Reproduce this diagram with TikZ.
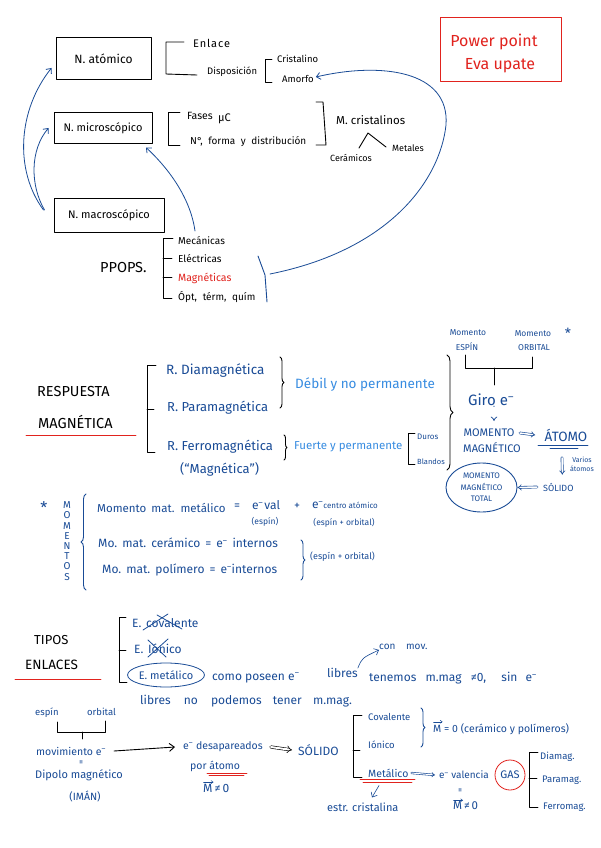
\documentclass[tikz,border=0pt]{standalone}
\usepackage{fontspec}
\setmainfont{Fira Sans}
\usetikzlibrary{arrows.meta,shapes.geometric,decorations.pathreplacing}
\definecolor{ink}{RGB}{25,75,150}
\definecolor{lblue}{RGB}{55,140,225}
\definecolor{redink}{RGB}{225,35,30}
\newcommand{\eneg}{e\textsuperscript{--}}
\newcommand{\ls}[2]{{\addfontfeature{LetterSpace=#1}#2}}
\newcommand{\gp}[1][5pt]{\hspace{#1}}
\begin{document}
\begin{tikzpicture}[x=1pt,y=-1pt, line cap=round, line join=round,
  fs/.style={font=\fontsize{#1}{#1}\selectfont},
  tw/.style={anchor=west, inner sep=0pt},
  bl/.style={text=ink},
  lb/.style={text=lblue},
  rd/.style={text=redink},
  lbox/.style={draw, line width=1pt, inner sep=0pt},
  brk/.style={line width=0.9pt},
  bbrk/.style={line width=0.9pt, ink},
  arr/.style={ink, line width=0.8pt, -{Straight Barb[length=4pt,width=7pt]}},
  vecar/.style={ink, line width=0.5pt, -{Straight Barb[length=2pt,width=3pt]}},
  dbl/.style={ink, double, double distance=1.5pt, line width=0.6pt, -{Implies}},
  brc/.style={decorate, decoration={brace, amplitude=#1}, line width=0.9pt},
]
\useasboundingbox (0,0) rectangle (600,848);
\fill[white] (0,0) rectangle (600,848);

% ---------- top: levels ----------
\node[lbox, minimum width=95pt, minimum height=42pt, fs=12] (atom) at (103.5,59) {N. atómico};
\node[lbox, minimum width=98pt, minimum height=30pt, fs=11] (micro) at (103,128) {N. microscópico};
\node[lbox, minimum width=110pt, minimum height=34pt, fs=11] (macro) at (109,215) {N. macroscópico};

\draw[brk] (184,42) -- (166,42) -- (166,74) -- (197,75);
\node[tw, fs=11] (enlace) at (193,43) {\ls{8}{Enlace}};
\node[tw, fs=9.5] (dispo) at (207,72) {Disposición};
\draw[brk] (272,59) -- (265,59) -- (265,82) -- (272,82);
\node[tw, fs=9.5] (crist) at (277,59) {Cristalino};
\node[tw, fs=9.5] (amorfo) at (282,79) {Amorfo};

\draw[brk] (180,112) -- (168,112) -- (168,145) -- (180,145);
\node[tw, fs=10.5] (fases) at (187,116) {Fases};
\node[tw, fs=11] (muc) at (218,119) {μC};
\node[tw, fs=10] (nforma) at (190,142) {N°,\gp[3pt] forma\gp[3pt] y\gp[3pt] distribución};
\draw[brk] (316,102) -- (323,102) -- (326,145) -- (316,145);
\node[tw, fs=11.5] (mcrist) at (336,120) {M. cristalinos};
\draw[brk] (359,148) -- (368,133) -- (386,147);
\node[tw, fs=9] (ceram) at (330,158) {Cerámicos};
\node[tw, fs=9] (metal) at (392,148) {Metales};

\node[draw=redink, line width=0.9pt, minimum width=121pt, minimum height=64pt] (pp) at (500.5,49) {};
\node[rd, fs=16] (pp1) at (494,42) {Power point};
\node[rd, fs=16] (pp2) at (500,66) {Eva upate};

\node[tw, fs=14.5] (ppops) at (100,268) {PPOPS.};
\draw[brk] (173,238) -- (163,238) -- (163,298) -- (172,298);
\draw[brk] (163,258) -- (172,258);
\draw[brk] (163,277) -- (172,277);
\node[tw, fs=10] (mec) at (178,241) {Mecánicas};
\node[tw, fs=10] (elec) at (178,259) {Eléctricas};
\node[tw, fs=10.5, rd] (magn) at (178,278) {Magnéticas};
\node[tw, fs=10] (opt) at (178,297) {Ópt,\gp[3pt] térm,\gp[3pt] quím};
\draw[bbrk] (258,256) -- (265,275) -- (267,302);
\coordinate (bk) at (270,274);

\draw[arr] ([shift={(-10,-5)}]macro.west) .. controls (14,170) and (18,110) .. ([shift={(-4,9)}]atom.west);
\draw[arr] ([shift={(-9,-5)}]macro.west) .. controls (30,185) and (30,150) .. ([shift={(-5,0)}]micro.west);
\draw[arr] ([shift={(17,-10)}]mec.west) .. controls (190,195) and (165,165) .. ([shift={(43,4)}]micro.south);
\draw[arr] (bk) .. controls (390,250) and (440,180) .. (446,125) .. controls (450,70) and (380,62) .. ([shift={(2,-2)}]amorfo.east);

% ---------- respuesta magnetica ----------
\node[tw, fs=14.5] (resp) at (37,392) {RESPUESTA};
\node[tw, fs=14.5] (magt) at (38,422) {MAGNÉTICA};
\draw[redink, line width=0.9pt] (26,435) -- (136,435);
\draw[brk] (156,365) -- (147,365) -- (147,452) -- (155,452);
\draw[brk] (147,409) -- (154,409);
\node[tw, bl, fs=13.5] (rdia) at (166,371) {R. Diamagnética};
\node[tw, bl, fs=13] (rpara) at (167,408) {R. Paramagnética};
\node[tw, bl, fs=13] (rferro) at (167,447) {R. Ferromagnética};
\node[tw, bl, fs=13] (rmag) at (180,469) {(“Magnética”)};
\draw[brc=4pt] (280,357) -- (280,408);
\node[tw, lb, fs=13.5] (debil) at (295,385) {Débil y no permanente};
\draw[brc=3pt] (284,435) -- (284,460);
\node[tw, lb, fs=11.5] (fuerte) at (294,447) {Fuerte y permanente};
\draw[brk] (415,433) -- (408,433) -- (408,464) -- (415,464);
\node[tw, bl, fs=8] (duros) at (417,437) {Duros};
\node[tw, bl, fs=7.5] (blandos) at (417,462) {Blandos};
\draw[brc=6pt] (447,355) -- (447,470);

\node[bl, fs=8.5] (mom1) at (468,333) {Momento};
\node[bl, fs=8.5] (esp) at (467,347) {ESPÍN};
\node[bl, fs=8.5] (mom2) at (533,334) {Momento};
\node[bl, fs=8.5] (orb) at (534,348) {ORBITAL};
\node[bl, fs=14] (star1) at (568,333) {*};
\node[bl, fs=15] (giro) at (491,400) {Giro \eneg};
\draw[brk] (465,355) -- (465,368) -- (532,368) -- (532,357);
\draw[brk] (494,368) -- (494,385);
\node[bl, fs=11] (momento) at (489,433) {MOMENTO};
\node[bl, fs=11] (magnetico) at (492,448) {MAGNÉTICO};
\draw[dbl, line width=0.7pt] ([shift={(3,7)}]giro.center) -- ([shift={(5,-12)}]momento.center);
\node[bl, fs=13.5] (atomo) at (566,435) {ÁTOMO};
\draw[dbl] ([xshift=2pt]momento.east) -- ([xshift=-6pt]atomo.west);
\draw[bbrk] (538,445) -- (588,445);
\draw[ink, line width=0.6pt] (550,448) -- (578,448);
\node[bl, align=center, font=\fontsize{7}{9}\selectfont] (varios) at (582,464) {Varios\\átomos};
\node[tw, bl, fs=9] (solido1) at (543,487) {SÓLIDO};
\draw[dbl] ([shift={(-4,13)}]atomo.south) -- ([shift={(4,-8)}]solido1.north);
\node[draw=ink, line width=0.9pt, ellipse, inner sep=0pt, minimum width=71pt, minimum height=49pt, bl, align=center, font=\fontsize{8}{11.5}\selectfont] (mmt) at (481.5,487.5) {MOMENTO\\MAGNÉTICO\\TOTAL};
\draw[dbl] ([xshift=-6pt]solido1.west) -- (mmt.east);

% ---------- momentos ----------
\node[bl, fs=16] (star2) at (44,508) {*};
\node[bl, align=center, font=\fontsize{10}{10.2}\selectfont] (momentos) at (67,541) {M\\O\\M\\E\\N\\T\\O\\S};
\draw[brc=5pt, ink] (86,590) -- (86,494);
\node[tw, bl, fs=11.5] (mmm) at (97,508) {Momento\gp[2pt] mat.\gp[2pt] metálico};
\node[bl, fs=12] (eq1) at (237,507) {=};
\node[tw, bl, fs=12] (eval) at (252,505) {\eneg\gp[1pt]val};
\node[bl, fs=12] (plus) at (297,506) {+};
\node[tw, bl, fs=12] (ecen) at (312,505) {\eneg{\fontsize{8}{8}\selectfont centro atómico}};
\node[bl, fs=8.5] (esp1) at (265,522) {(espín)};
\node[bl, fs=8.5] (esp2) at (344,523) {(espín + orbital)};
\node[tw, bl, fs=12] (mcer) at (98,543) {Mo.\gp mat.\gp cerámico\gp =\gp \eneg\gp internos};
\node[tw, bl, fs=12] (mpol) at (102,570) {Mo.\gp mat.\gp polímero\gp =\gp \eneg internos};
\draw[brc=4pt, ink] (301,540) -- (301,580);
\node[tw, bl, fs=9] (esp3) at (310,557) {(espín + orbital)};

% ---------- tipos enlaces ----------
\node[tw, fs=13] (tipos) at (34,640) {TIPOS};
\node[tw, fs=13.5] (enlaces) at (25,665) {ENLACES};
\draw[redink, line width=0.9pt] (15,679) -- (101,679);
\draw[brk] (126,617) -- (119,617) -- (119,682) -- (127,682);
\draw[brk] (119,650) -- (126,650);
\node[tw, bl, fs=12] (ecov) at (132,623) {E.};
\node[tw, bl, fs=12] (cov) at (146,623) {covalente};
\draw[ink, line width=0.8pt] ([shift={(-3,7)}]cov.west) -- ([shift={(22,-9)}]cov.west);
\draw[ink, line width=0.8pt] ([shift={(11,-8)}]cov.west) -- ([shift={(36,6)}]cov.west);
\node[tw, bl, fs=12] (eion) at (134,649) {E.};
\node[tw, bl, fs=12] (ion) at (148,649) {Iónico};
\draw[ink, line width=0.8pt] ([shift={(0,-9)}]ion.west) -- ([shift={(18,8)}]ion.west);
\draw[ink, line width=0.8pt] ([shift={(0,8)}]ion.west) -- ([shift={(20,-10)}]ion.west);
\node[draw=ink, line width=0.8pt, ellipse, inner sep=0pt, minimum width=76pt, minimum height=24pt, bl, fs=11] (emet) at (166,675) {E. metálico};
\node[tw, bl, fs=12] (como) at (212,678) {como poseen \eneg};
\node[tw, bl, fs=12] (libres) at (327,673) {libres};
\node[tw, bl, fs=10] (conmov) at (379,647) {con\gp[8pt] mov.};
\draw[arr, line width=0.6pt] (libres.north east) .. controls (362,658) .. (conmov.south west);
\node[tw, bl, fs=12] (tenemos) at (369,678) {tenemos\gp[6pt] m.mag\gp[6pt] ≠0,\gp[12pt] sin\gp[5pt] \eneg};
\node[tw, bl, fs=12] (libres2) at (140,701) {libres\gp[10pt] no\gp[10pt] podemos\gp[8pt] tener\gp[8pt] m.mag.};

% ---------- bottom ----------
\node[tw, bl, fs=9.5] (espin) at (35,713) {espín};
\node[tw, bl, fs=9.5] (orbital) at (87,712) {orbital};
\draw[brk] (57,722) -- (57,732) -- (105,732) -- (105,721);
\draw[brk] (82,732) -- (82,739);
\node[tw, bl, fs=10.5] (movim) at (36,751) {movimiento \eneg};
\node[bl, fs=9, rotate=90] (eqv) at (82,762) {=};
\node[tw, bl, fs=11] (dipolo) at (35,775) {Dipolo magnético};
\node[bl, fs=10.5] (iman) at (85,796) {(IMÁN)};
\node[tw, bl, fs=10.5] (desap) at (183,747) {\eneg\ desapareados};
\draw[line width=0.9pt, -{Straight Barb[length=5pt,width=8pt]}] ([xshift=8pt]movim.east) -- ([xshift=-8pt]desap.west);
\node[tw, bl, fs=10.5] (por) at (190,766) {por átomo};
\draw[redink, line width=0.6pt] (207,773) -- (247,773);
\draw[redink, line width=0.6pt] (209,775.5) -- (244,775.5);
\node[tw, bl, fs=12] (mne0) at (203,788) {M\,≠\,0};
\draw[vecar] ([shift={(0.5,-1.5)}]mne0.north west) -- ++(10,0);
\node[tw, bl, fs=12] (solido2) at (298,750) {SÓLIDO};
\draw[line width=0.6pt, double, double distance=2pt, -{Implies}] ([xshift=8pt]desap.east) -- ([xshift=-6pt]solido2.west);
\draw[brk] (362,715) -- (353,715) -- (353,777) -- (362,777);
\draw[brk] (353,750) -- (360,750);
\node[tw, bl, fs=9.5] (covl) at (368,717) {Covalente};
\node[tw, bl, fs=9.5] (ionc) at (368,745) {Iónico};
\node[tw, bl, fs=10.5] (metc) at (368,773) {Metálico};
\draw[redink, line width=0.6pt] (360,779) -- (415,779);
\draw[redink, line width=0.6pt] (363,782) -- (412,782);
\draw[brc=4pt, ink] (421,708) -- (421,747);
\node[tw, bl, fs=10.5] (m0) at (433,729) {M = 0 (cerámico y polímeros)};
\draw[vecar] ([shift={(0.5,-1.5)}]m0.north west) -- ++(9,0);
\node[tw, bl, fs=10] (evalc) at (439,775) {\eneg\ valencia};
\draw[dbl, double distance=1pt] ([xshift=3pt]metc.east) -- ([xshift=-4pt]evalc.west);
\node[draw=redink, circle, line width=0.8pt, minimum size=30pt, inner sep=0pt, bl, fs=11] (gas) at (510,775) {GAS};
\node[bl, fs=9, rotate=90] (eqv2) at (461,790) {=};
\node[tw, bl, fs=11.5] (mne02) at (453,806) {M\,≠\,0};
\draw[vecar] ([shift={(0.5,-1.5)}]mne02.north west) -- ++(9.5,0);
\node[tw, bl, fs=11] (estr) at (327,807) {estr. cristalina};
\draw[arr, line width=0.6pt] ([shift={(11,8)}]metc.south west) -- ([shift={(45,-5)}]estr.north west);
\draw[brk] (538,752) -- (529,752) -- (529,807) -- (538,807);
\draw[brk] (529,778) -- (537,778);
\node[tw, bl, fs=9.5] (diam) at (540,757) {Diamag.};
\node[tw, bl, fs=9.5] (param) at (542,780) {Paramag.};
\node[tw, bl, fs=9.5] (ferrm) at (543,807) {Ferromag.};
\end{tikzpicture}
\end{document}
